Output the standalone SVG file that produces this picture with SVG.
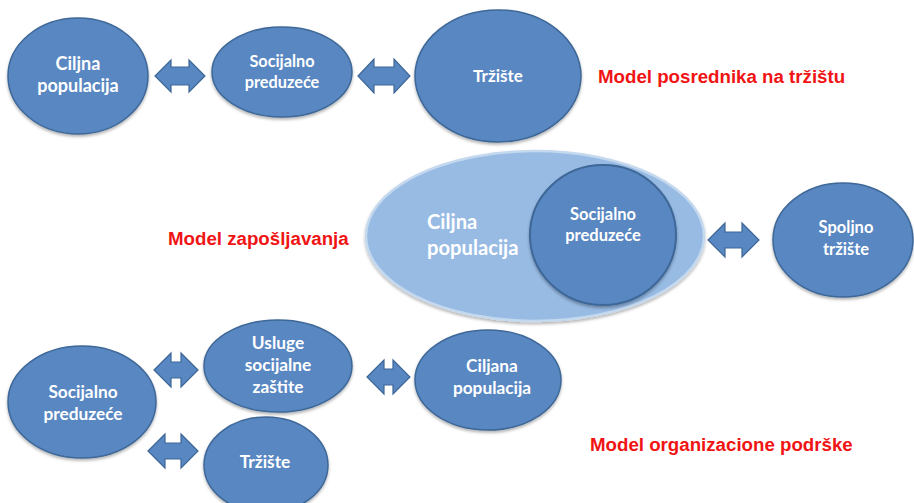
<svg xmlns="http://www.w3.org/2000/svg" width="914" height="503" viewBox="0 0 914 503">
<defs>
<filter id="sh" x="-10%" y="-10%" width="120%" height="125%">
<feDropShadow dx="0" dy="2" stdDeviation="1.5" flood-color="#000" flood-opacity="0.3"/>
</filter>
<style>
.node{fill:#5887c2;stroke:#3e6797;stroke-width:1.5;filter:url(#sh)}
.outer{fill:#98bbe4;stroke:#c4d8ee;stroke-width:2.5;filter:url(#sh)}
.arr{fill:#5887c2;stroke:#3e6797;stroke-width:1.2}
.t{font-family:Lato,"Liberation Sans",sans-serif;font-weight:bold;fill:#ffffff;text-anchor:middle}
.ts{text-anchor:start}
.m{font-family:"Liberation Sans",Arial,sans-serif;font-weight:bold;fill:#f01414;font-size:18.7px}
</style>
</defs>
<rect width="914" height="503" fill="#ffffff"/>

<g id="n-ciljna-top">
<ellipse class="node" cx="78" cy="76" rx="70" ry="58"/>
<text class="t" font-size="18" x="78" y="70">Ciljna</text>
<text class="t" font-size="18" x="78" y="92">populacija</text>
</g>
<g id="n-socijalno-top">
<ellipse class="node" cx="282" cy="72" rx="70" ry="45"/>
<text class="t" font-size="16.3" x="282" y="67">Socijalno</text>
<text class="t" font-size="16.3" x="282" y="88">preduzeće</text>
</g>
<g id="n-trziste-top">
<ellipse class="node" cx="498" cy="76" rx="83" ry="66"/>
<text class="t" font-size="17" x="498" y="82">Tržište</text>
</g>

<g id="n-ciljna-mid">
<ellipse class="outer" cx="535" cy="236" rx="169" ry="85"/>
<text class="t ts" font-size="20.2" x="427" y="229">Ciljna</text>
<text class="t ts" font-size="20.2" x="427" y="255">populacija</text>
</g>
<g id="n-socijalno-mid">
<ellipse class="node" cx="603" cy="235" rx="73" ry="70" style="stroke-width:2"/>
<text class="t" font-size="16.5" x="603" y="220">Socijalno</text>
<text class="t" font-size="16.5" x="603" y="241">preduzeće</text>
</g>
<g id="n-spoljno">
<ellipse class="node" cx="843" cy="240" rx="70" ry="57"/>
<text class="t" font-size="16.5" x="846" y="233">Spoljno</text>
<text class="t" font-size="16.5" x="846" y="255">tržište</text>
</g>

<g id="n-socijalno-bot">
<ellipse class="node" cx="82" cy="402" rx="74" ry="56"/>
<text class="t" font-size="17.3" x="83" y="398">Socijalno</text>
<text class="t" font-size="17.3" x="83" y="420">preduzeće</text>
</g>
<g id="n-usluge">
<ellipse class="node" cx="278" cy="366" rx="74" ry="46"/>
<text class="t" font-size="17.3" x="278" y="349">Usluge</text>
<text class="t" font-size="17.3" x="278" y="371">socijalne</text>
<text class="t" font-size="17.3" x="278" y="393">zaštite</text>
</g>
<g id="n-ciljana">
<ellipse class="node" cx="488" cy="380" rx="73" ry="50"/>
<text class="t" font-size="17.3" x="492" y="372">Ciljana</text>
<text class="t" font-size="17.3" x="492" y="394">populacija</text>
</g>
<g id="n-trziste-bot">
<ellipse class="node" cx="266" cy="465" rx="62" ry="48"/>
<text class="t" font-size="17.3" x="265" y="468">Tržište</text>
</g>

<g id="connectors">
<path class="arr" d="M155,76 L171,60 L171,67 L189,67 L189,60 L205,76 L189,92 L189,85 L171,85 L171,92 Z"/>
<path class="arr" d="M358,76 L374,59 L374,67 L394,67 L394,59 L410,76 L394,93 L394,85 L374,85 L374,93 Z"/>
<path class="arr" d="M708,240 L725,223 L725,232 L742,232 L742,223 L759,240 L742,257 L742,248 L725,248 L725,257 Z"/>
<path class="arr" d="M154,370 L171,353 L171,362 L181,362 L181,353 L198,370 L181,387 L181,378 L171,378 L171,387 Z"/>
<path class="arr" d="M148,451 L165,434 L165,443 L181,443 L181,434 L198,451 L181,468 L181,459 L165,459 L165,468 Z"/>
<path class="arr" d="M367,377 L384,360 L384,369 L393,369 L393,360 L410,377 L393,394 L393,385 L384,385 L384,394 Z"/>
</g>

<g id="labels">
<text class="m" x="598" y="83">Model posrednika na tržištu</text>
<text class="m" x="168" y="245">Model zapošljavanja</text>
<text class="m" x="590" y="451">Model organizacione podrške</text>
</g>
</svg>
